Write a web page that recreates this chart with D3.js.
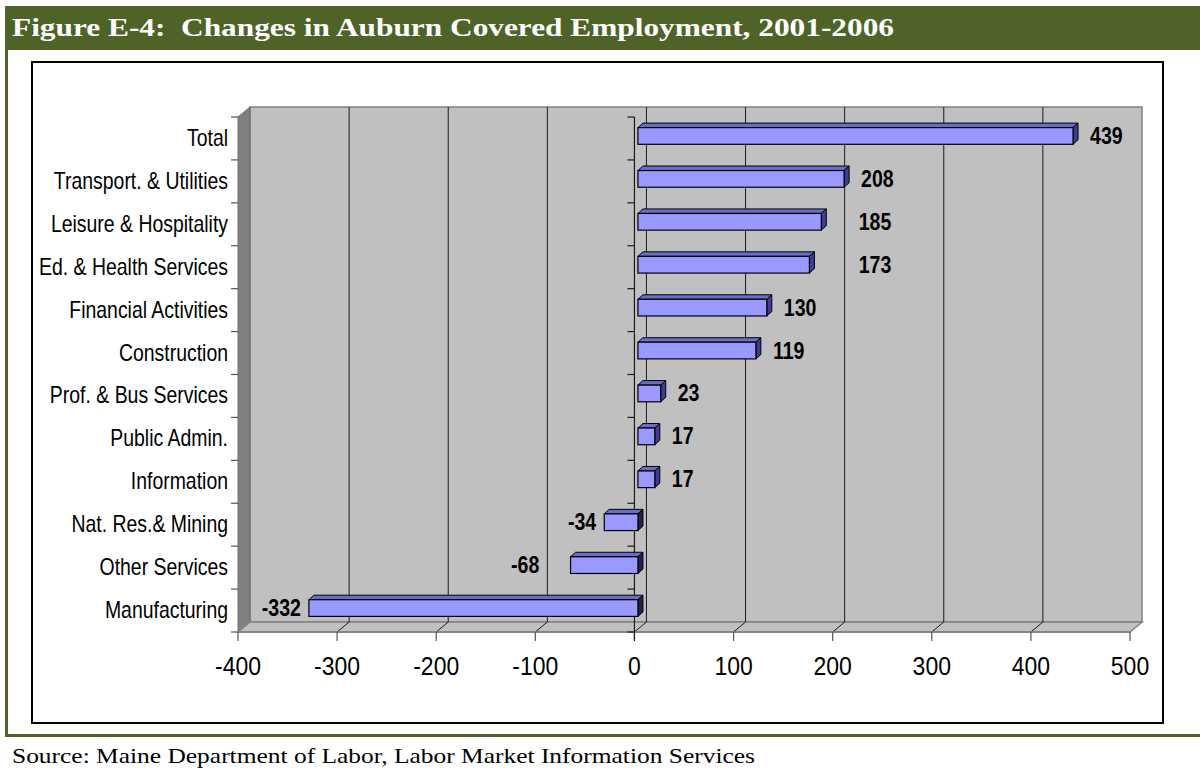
<!DOCTYPE html>
<html>
<head>
<meta charset="utf-8">
<script src="https://cdn.jsdelivr.net/npm/d3@7"></script>
<style>
  html, body { margin: 0; padding: 0; background: #fff; }
  svg { display: block; }
  text { white-space: pre; }
</style>
</head>
<body>
<svg id="chart" width="1200" height="770"></svg>
<script>
// ---------- data ----------
const categories = [
  "Total", "Transport. & Utilities", "Leisure & Hospitality", "Ed. & Health Services",
  "Financial Activities", "Construction", "Prof. & Bus Services", "Public Admin.",
  "Information", "Nat. Res.& Mining", "Other Services", "Manufacturing"
];
const values = [439, 208, 185, 173, 130, 119, 23, 17, 17, -34, -68, -332];
const xTicks = [-400, -300, -200, -100, 0, 100, 200, 300, 400, 500];
const titleText = "Figure E-4:  Changes in Auburn Covered Employment, 2001-2006";
const sourceText = "Source: Maine Department of Labor, Labor Market Information Services";

// ---------- layout ----------
const svg = d3.select("#chart");
const green = "#4F6228";
const serif = "'Palatino Linotype','Book Antiqua',Palatino,'Liberation Serif','DejaVu Serif',serif";
const sans = "'Liberation Sans',Arial,sans-serif";
const DX = 12, DY = -10;          // wall depth
const BOX = 3.5, BOY = -2.5;      // bar front offset into depth
const BDX = 5, BDY = -4.5;        // bar depth
const barH = 16.7;

const x = d3.scaleLinear().domain([-400, 500]).range([238, 1130]);
const y = d3.scaleBand().domain(categories).range([117, 632]).padding(0);
const floorY = 632;
const topY = 117;

// frame
svg.append("rect").attr("x", 0).attr("y", 0).attr("width", 1200).attr("height", 770).attr("fill", "#fff");
svg.append("rect").attr("x", 5).attr("y", 6).attr("width", 1195).attr("height", 44).attr("fill", green);
svg.append("rect").attr("x", 5).attr("y", 6).attr("width", 3).attr("height", 731).attr("fill", green);
svg.append("rect").attr("x", 5).attr("y", 734).attr("width", 1195).attr("height", 3).attr("fill", green);

svg.append("text")
  .attr("x", 12).attr("y", 36)
  .attr("fill", "#fff")
  .attr("font-family", serif)
  .attr("font-weight", "bold")
  .attr("font-size", 25)
  .attr("textLength", 882)
  .attr("lengthAdjust", "spacingAndGlyphs")
  .text(titleText);

svg.append("text")
  .attr("x", 12).attr("y", 763)
  .attr("fill", "#000")
  .attr("font-family", serif)
  .attr("font-size", 22)
  .attr("textLength", 743)
  .attr("lengthAdjust", "spacingAndGlyphs")
  .text(sourceText);

// chart box
svg.append("rect").attr("x", 32).attr("y", 62).attr("width", 1131).attr("height", 661)
  .attr("fill", "#fff").attr("stroke", "#000").attr("stroke-width", 2);

const g = svg.append("g");
const x0 = x.range()[0], x1 = x.range()[1];

// back wall
g.append("rect")
  .attr("x", x0 + DX).attr("y", topY + DY)
  .attr("width", x1 - x0).attr("height", floorY - topY)
  .attr("fill", "#C0C0C0").attr("stroke", "#808080").attr("stroke-width", 1.5);

// left side wall
g.append("polygon")
  .attr("points", [[x0, topY], [x0 + DX, topY + DY], [x0 + DX, floorY + DY], [x0, floorY]].map(p => p.join(",")).join(" "))
  .attr("fill", "#808080").attr("stroke", "#6e6e6e").attr("stroke-width", 1);

// floor
g.append("polygon")
  .attr("points", [[x0, floorY], [x0 + DX, floorY + DY], [x1 + DX, floorY + DY], [x1, floorY]].map(p => p.join(",")).join(" "))
  .attr("fill", "#C0C0C0").attr("stroke", "#808080").attr("stroke-width", 1.5);

// back wall gridlines
const inner = xTicks.filter(t => t !== xTicks[0] && t !== xTicks[xTicks.length - 1]);
const gridX = inner.map(t => x(t) + DX);
g.selectAll(".vgrid").data(inner).enter().append("line")
  .attr("x1", d => x(d) + DX).attr("x2", d => x(d) + DX)
  .attr("y1", topY + DY).attr("y2", floorY + DY)
  .attr("stroke", "#1a1a1a").attr("stroke-width", 1);
// floor gridlines
g.selectAll(".fgrid").data(inner).enter().append("line")
  .attr("x1", d => x(d)).attr("x2", d => x(d) + DX)
  .attr("y1", floorY).attr("y2", floorY + DY)
  .attr("stroke", "#1a1a1a").attr("stroke-width", 1);

// x axis (front floor edge)
g.append("line").attr("x1", x0).attr("x2", x1).attr("y1", floorY).attr("y2", floorY)
  .attr("stroke", "#808080").attr("stroke-width", 1.5);
g.selectAll(".xtick").data(xTicks).enter().append("line")
  .attr("x1", d => x(d)).attr("x2", d => x(d))
  .attr("y1", floorY).attr("y2", floorY + 9)
  .attr("stroke", "#555").attr("stroke-width", 1.2);
g.selectAll(".xlab").data(xTicks).enter().append("text")
  .attr("transform", d => `translate(${x(d)},${floorY + 43}) scale(0.92,1)`)
  .attr("text-anchor", "middle")
  .attr("font-family", sans)
  .attr("font-size", 25)
  .attr("fill", "#000")
  .text(d => d);

// category boundaries
const bounds = d3.range(categories.length + 1).map(i => topY + i * y.bandwidth());
// left wall ticks
g.selectAll(".ltick").data(bounds).enter().append("line")
  .attr("x1", x0 - 7).attr("x2", x0)
  .attr("y1", d => d).attr("y2", d => d)
  .attr("stroke", "#555").attr("stroke-width", 1.2);
// zero category axis
g.append("line").attr("x1", x(0)).attr("x2", x(0)).attr("y1", topY).attr("y2", floorY + 9)
  .attr("stroke", "#1a1a1a").attr("stroke-width", 1.2);
g.selectAll(".ztick").data(bounds).enter().append("line")
  .attr("x1", x(0) - 7).attr("x2", x(0))
  .attr("y1", d => d).attr("y2", d => d)
  .attr("stroke", "#1a1a1a").attr("stroke-width", 1.2);

// category labels
g.selectAll(".clab").data(categories).enter().append("text")
  .attr("transform", d => `translate(${x0 - 10},${y(d) + y.bandwidth() / 2 + 7.5}) scale(0.845,1)`)
  .attr("text-anchor", "end")
  .attr("font-family", sans)
  .attr("font-size", 23)
  .attr("fill", "#000")
  .text(d => d);

// bars
const data = categories.map((c, i) => ({ c, v: values[i] }));
const bars = g.selectAll(".bar").data(data).enter().append("g");
bars.each(function (d) {
  const sel = d3.select(this);
  const L = x(Math.min(0, d.v)) + BOX;
  const R = x(Math.max(0, d.v)) + BOX;
  const T = y(d.c) + y.bandwidth() / 2 + BOY - barH / 2;
  const B = T + barH;
  const pts = a => a.map(p => p.join(",")).join(" ");
  sel.append("polygon")
    .attr("points", pts([[L, T], [L + BDX, T + BDY], [R + BDX, T + BDY], [R, T]]))
    .attr("fill", "#6B6BC8").attr("stroke", "#000").attr("stroke-width", 1).attr("stroke-linejoin", "round");
  sel.append("polygon")
    .attr("points", pts([[R, T], [R + BDX, T + BDY], [R + BDX, B + BDY], [R, B]]))
    .attr("fill", d.v < 0 ? "#22224a" : "#3E3E8E").attr("stroke", "#000").attr("stroke-width", 1).attr("stroke-linejoin", "round");
  sel.append("rect")
    .attr("x", L).attr("y", T).attr("width", R - L).attr("height", barH)
    .attr("fill", "#9999FF").attr("stroke", "#000").attr("stroke-width", 1.2);
});

// value labels (placed beside bar end, nudged clear of back gridlines)
const labels = g.selectAll(".vlab").data(data).enter().append("text")
  .attr("text-anchor", "start")
  .attr("font-family", sans)
  .attr("font-weight", "bold")
  .attr("font-size", 23)
  .attr("fill", "#000")
  .text(d => d.v);
labels.each(function (d) {
  const sx = 0.85;
  const w = this.getComputedTextLength() * sx;
  let left;
  if (d.v >= 0) {
    left = x(d.v) + BOX + 17;
    const hit = gridX.find(gx => gx > left - 3 && gx < left + w + 3);
    if (hit !== undefined) left = hit + 14;
  } else {
    let right = x(d.v) + BOX - 8;
    const hit = gridX.find(gx => gx > right - w - 3 && gx < right + 3);
    if (hit !== undefined) right = hit - 8;
    left = right - w;
  }
  const yy = y(d.c) + y.bandwidth() / 2 + BOY + 8;
  d3.select(this).attr("transform", `translate(${left},${yy}) scale(${sx},1)`);
});
</script>
</body>
</html>
